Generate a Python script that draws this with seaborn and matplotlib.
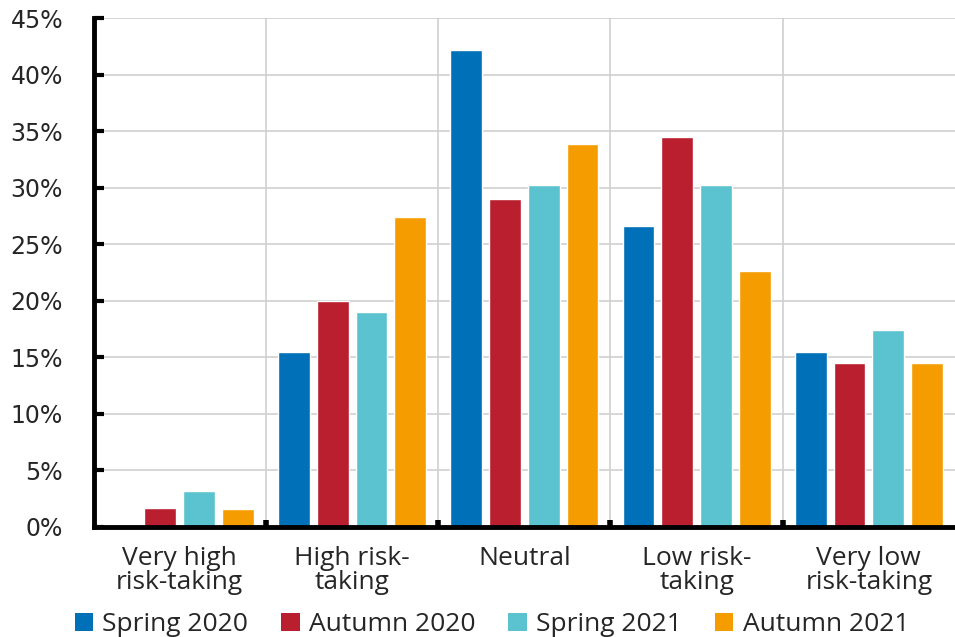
import matplotlib
matplotlib.use("Agg")
import matplotlib.pyplot as plt
import seaborn as sns
import pandas as pd
from matplotlib.patches import Patch

categories = ["Very high\nrisk-taking", "High risk-\ntaking", "Neutral", "Low risk-\ntaking", "Very low\nrisk-taking"]
periods = ["Spring 2020", "Autumn 2020", "Spring 2021", "Autumn 2021"]
spring_2020 = [0.0, 15.5, 42.2, 26.6, 15.5]
autumn_2020 = [1.7, 20.0, 29.0, 34.5, 14.5]
spring_2021 = [3.2, 19.0, 30.2, 30.2, 17.4]
autumn_2021 = [1.6, 27.4, 33.9, 22.6, 14.5]
y_ticks = [0, 5, 10, 15, 20, 25, 30, 35, 40, 45]
y_tick_labels = ["0%", "5%", "10%", "15%", "20%", "25%", "30%", "35%", "40%", "45%"]
colors = ["#0070B8", "#B91F2E", "#5BC2CF", "#F59C00"]

series = [spring_2020, autumn_2020, spring_2021, autumn_2021]
rows = []
for period, vals in zip(periods, series):
    for cat, v in zip(categories, vals):
        rows.append({"category": cat, "period": period, "value": v})
df = pd.DataFrame(rows)

sns.set_style("white")
plt.rcParams["font.family"] = ["Open Sans", "DejaVu Sans"]

fig = plt.figure(figsize=(9.55, 6.37), dpi=100)
ax = fig.add_axes([0.098, 0.1727, 0.902, 0.7990])

sns.barplot(data=df, x="category", y="value", hue="period", order=categories,
            hue_order=periods, palette=colors, width=0.9, gap=0.18,
            saturation=1, legend=False, ax=ax, zorder=3)

ax.set_ylim(0, 45)
ax.set_xlim(-0.5, 4.5)
ax.set_yticks(y_ticks)
ax.set_yticklabels(y_tick_labels, fontsize=17, family=["DejaVu Sans"])
ax.set_xticks(range(len(categories)))
ax.set_xticklabels(categories, fontsize=19, linespacing=0.95)
ax.set_xticks([0.5, 1.5, 2.5, 3.5], minor=True)
ax.set_xlabel("")
ax.set_ylabel("")

ax.grid(axis="y", which="major", color="#d0d0d0", linewidth=1.2, zorder=0)
ax.grid(axis="x", which="minor", color="#d0d0d0", linewidth=1.2, zorder=0)
ax.set_axisbelow(True)

for side in ["top", "right"]:
    ax.spines[side].set_visible(False)
for side in ["left", "bottom"]:
    ax.spines[side].set_color("black")
    ax.spines[side].set_linewidth(3.5)
    ax.spines[side].set_zorder(5)

ax.tick_params(axis="y", direction="in", length=7, width=3, color="black", pad=22, left=True)
ax.tick_params(axis="x", which="major", length=0, pad=14)
ax.tick_params(axis="x", which="minor", direction="in", length=5, width=4, color="black", bottom=True)

handles = [Patch(facecolor=c, edgecolor="none") for c in colors]
fig.legend(handles, periods, loc="center", bbox_to_anchor=(0.515, 0.019), ncol=4,
           frameon=False, fontsize=19, handlelength=0.7, handleheight=0.7,
           handletextpad=0.35, columnspacing=1.25)

fig.savefig("out.png", dpi=100)
